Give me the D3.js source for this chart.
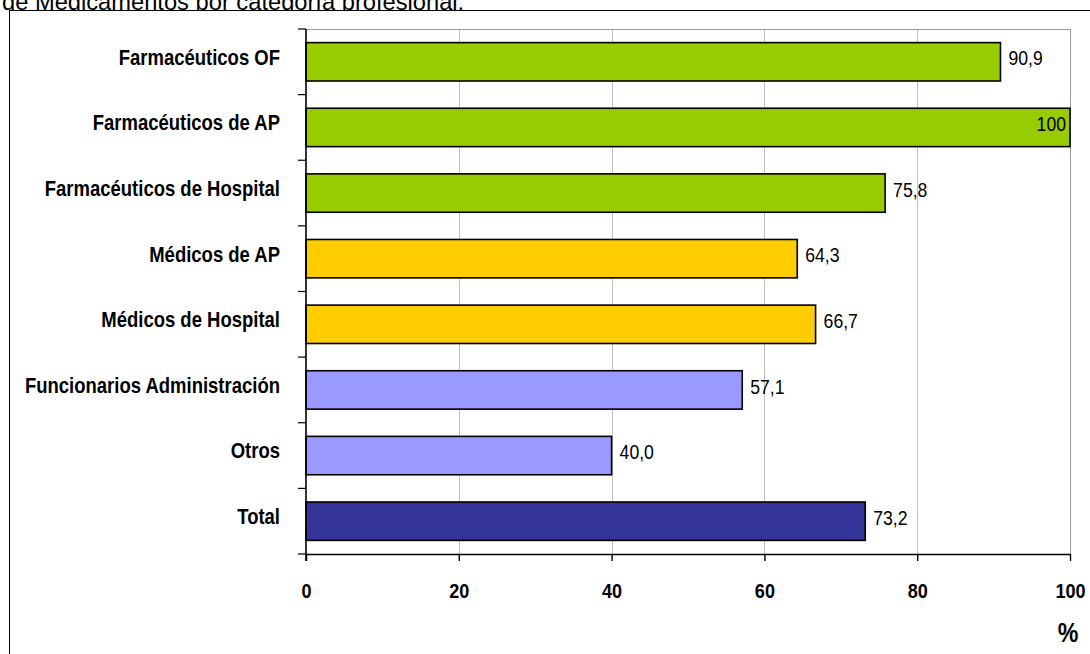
<!DOCTYPE html>
<html>
<head>
<meta charset="utf-8">
<script src="https://cdn.jsdelivr.net/npm/d3@7"></script>
<style>
  html, body { margin: 0; padding: 0; background: #fff; }
  svg { display: block; }
</style>
</head>
<body>
<svg id="chart" width="1090" height="654"></svg>
<script>
// Porcentaje por categoría profesional
const categories = [
  "Farmacéuticos OF",
  "Farmacéuticos de AP",
  "Farmacéuticos de Hospital",
  "Médicos de AP",
  "Médicos de Hospital",
  "Funcionarios Administración",
  "Otros",
  "Total"
];
const values = [90.9, 100, 75.8, 64.3, 66.7, 57.1, 40.0, 73.2];
const groups = ["farm", "farm", "farm", "med", "med", "otros", "otros", "total"];
const xTicks = [0, 20, 40, 60, 80, 100];
const titleText = "de Medicamentos por categoría profesional.";
const axisTitle = "%";

const groupColor = { farm: "#99CC00", med: "#FFCC00", otros: "#9999FF", total: "#333399" };

const svg = d3.select("#chart");
const sans = "'Liberation Sans', Arial, sans-serif";
const SQ = 0.86; // horizontal condensing for the narrow face

// condense texts horizontally, keeping their anchor point in place
function squeeze(sel, s) {
  sel.each(function () {
    const t = d3.select(this);
    const xv = +t.attr("x") || 0;
    t.attr("x", xv / s).attr("transform", `scale(${s},1)`);
  });
}

// title line, partly hidden behind the frame
svg.append("text")
  .attr("x", 2).attr("y", 10)
  .attr("font-family", sans)
  .attr("font-size", 23.7)
  .attr("fill", "#000")
  .text(titleText);

// chart frame
svg.append("rect")
  .attr("x", 9.5).attr("y", 10.5)
  .attr("width", 1200).attr("height", 800)
  .attr("fill", "#fff").attr("stroke", "#000").attr("stroke-width", 1);

const plot = { left: 306, right: 1070, top: 29, bottom: 554 };

const x = d3.scaleLinear().domain([0, 100]).range([plot.left, plot.right]);
const y = d3.scaleBand().domain(categories)
  .range([plot.top, plot.bottom])
  .paddingInner(0.415).paddingOuter(0.2075);

const g = svg.append("g");

// vertical gridlines
g.append("g").selectAll("line")
  .data(xTicks.filter(t => t > 0))
  .join("line")
  .attr("x1", d => Math.round(x(d)) + 0.5).attr("x2", d => Math.round(x(d)) + 0.5)
  .attr("y1", plot.top).attr("y2", plot.bottom)
  .attr("stroke", d => d === 100 ? "#999" : "#c0c0c0").attr("stroke-width", 1);

// top edge of plot area
g.append("line")
  .attr("x1", plot.left).attr("x2", plot.right + 0.5)
  .attr("y1", plot.top + 0.5).attr("y2", plot.top + 0.5)
  .attr("stroke", "#999");

// bars
g.append("g").selectAll("rect")
  .data(categories)
  .join("rect")
  .attr("x", x(0))
  .attr("y", d => y(d))
  .attr("width", (d, i) => x(values[i]) - x(0))
  .attr("height", y.bandwidth())
  .attr("fill", (d, i) => groupColor[groups[i]])
  .attr("stroke", "#000").attr("stroke-width", 1.6);

// value labels
const fmt = v => (Number.isInteger(v) && v >= 100) ? String(v) : d3.format(".1f")(v).replace(".", ",");
const vl = g.append("g").selectAll("g")
  .data(categories)
  .join("g")
  .attr("transform", (d, i) => {
    const px = values[i] >= 100 ? x(values[i]) - 4 : x(values[i]) + 8;
    return `translate(${px},${y(d) + y.bandwidth() / 2 - 3.5})`;
  });
vl.append("text")
  .attr("dy", "0.35em")
  .attr("text-anchor", (d, i) => values[i] >= 100 ? "end" : "start")
  .attr("font-family", sans)
  .attr("font-size", 20.5)
  .attr("fill", "#000")
  .attr("transform", `scale(${SQ},1)`)
  .text((d, i) => fmt(values[i]));

// category axis
const yAxis = d3.axisLeft(y).tickSize(0).tickPadding(26);
const ya = g.append("g").attr("transform", `translate(${plot.left},0)`).call(yAxis);
ya.select(".domain").remove();
ya.selectAll("text")
  .attr("font-family", sans)
  .attr("font-weight", "bold")
  .attr("font-size", 21.5)
  .attr("dy", "0.35em")
  .attr("y", -4.7)
  .attr("fill", "#000")
  .call(squeeze, SQ);

// category separators on the left axis
const step = y.step();
g.append("g").selectAll("line")
  .data(d3.range(categories.length + 1))
  .join("line")
  .attr("x1", plot.left - 8).attr("x2", plot.left)
  .attr("y1", i => plot.top + i * step).attr("y2", i => plot.top + i * step)
  .attr("stroke", "#000").attr("stroke-width", 1.2);

// left axis line
g.append("line")
  .attr("x1", plot.left).attr("x2", plot.left)
  .attr("y1", plot.top).attr("y2", plot.bottom + 7)
  .attr("stroke", "#000").attr("stroke-width", 1.6);

// value axis
const xAxis = d3.axisBottom(x).tickValues(xTicks).tickSize(7).tickPadding(22).tickSizeOuter(0);
const xa = g.append("g").attr("transform", `translate(0,${plot.bottom})`).call(xAxis);
xa.select(".domain").attr("stroke", "#000").attr("stroke-width", 1.6);
xa.selectAll(".tick line").attr("stroke", "#000").attr("stroke-width", 1.4);
xa.selectAll("text")
  .attr("font-family", sans)
  .attr("font-weight", "bold")
  .attr("font-size", 21)
  .attr("fill", "#000")
  .call(squeeze, SQ);

// axis unit
g.append("g")
  .attr("transform", `translate(${x(100) - 2},642)`)
  .append("text")
  .attr("text-anchor", "middle")
  .attr("font-family", sans)
  .attr("font-weight", "bold")
  .attr("font-size", 27)
  .attr("fill", "#000")
  .attr("transform", `scale(${SQ},1)`)
  .text(axisTitle);
</script>
</body>
</html>
